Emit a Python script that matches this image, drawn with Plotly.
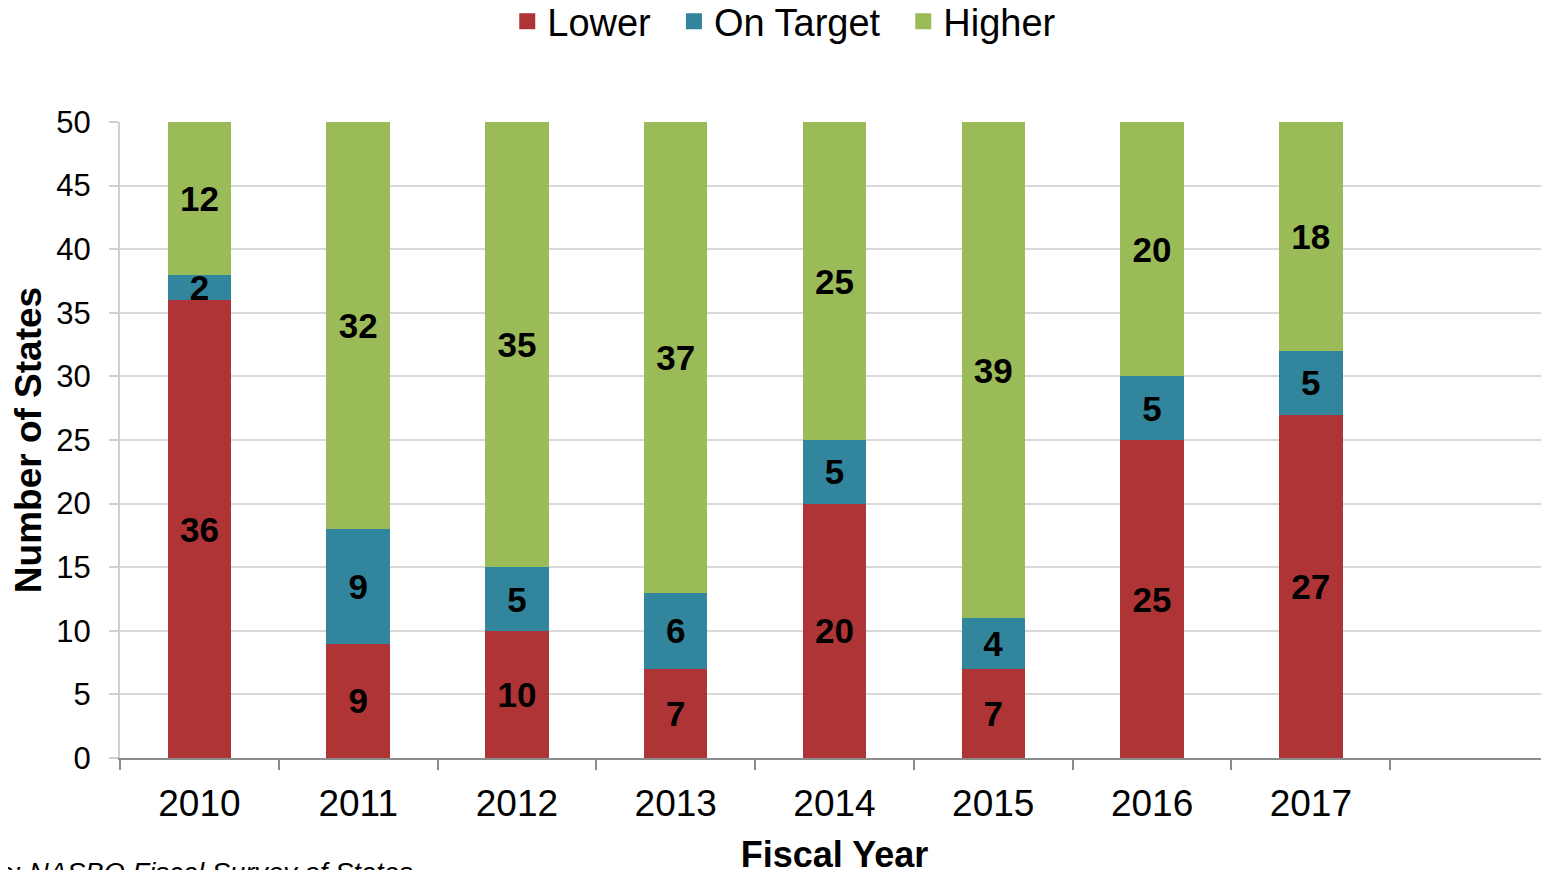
import plotly.graph_objects as go

years = ["2010", "2011", "2012", "2013", "2014", "2015", "2016", "2017"]
lower = [36, 9, 10, 7, 20, 7, 25, 27]
on_target = [2, 9, 5, 6, 5, 4, 5, 5]
higher = [12, 32, 35, 37, 25, 39, 20, 18]

series = [
    ("Lower", lower, "#AE3436"),
    ("On Target", on_target, "#31859C"),
    ("Higher", higher, "#9BBB59"),
]

FONT = "Liberation Sans, Arial, sans-serif"
PAD = "\u00a0\u2009"

fig = go.Figure()
for name, vals, color in series:
    fig.add_trace(go.Bar(
        name=name, x=years, y=vals, marker=dict(color=color, line=dict(width=0)),
        width=0.4, text=[str(v) for v in vals], textposition="inside", textangle=0,
        insidetextanchor="middle", constraintext="none",
        textfont=dict(family=FONT, size=35, color="black", weight="bold"),
        hoverinfo="skip", showlegend=False, legendgroup=name,
    ))
# legend entries with larger square keys
for i, (name, vals, color) in enumerate(series):
    label = name + (PAD if i < len(series) - 1 else "")
    fig.add_trace(go.Scatter(
        name=label, x=[None], y=[None], mode="markers", legendgroup=name,
        marker=dict(symbol="square", size=20, color=color), hoverinfo="skip",
    ))

fig.update_layout(
    barmode="stack",
    width=1549, height=870,
    margin=dict(l=112, r=8, t=114, b=120, autoexpand=False),
    paper_bgcolor="white", plot_bgcolor="white",
    font=dict(family=FONT, color="black"),
    legend=dict(orientation="h", x=0.271, xanchor="left", y=1.158, yanchor="middle",
                font=dict(size=38, family=FONT), traceorder="normal",
                itemwidth=30, tracegroupgap=0),
    xaxis=dict(type="category", categoryorder="array", categoryarray=years + [" "],
               range=[-0.5, 8.5], tickson="boundaries", ticks="outside", ticklen=10,
               tickwidth=2, tickcolor="#8c8c8c", showline=True, linecolor="#8c8c8c",
               linewidth=2, showgrid=False, tickfont=dict(size=37, family=FONT),
               automargin=False, ticklabelstandoff=12,
               title=dict(text="<b>Fiscal Year</b>", font=dict(size=36, family=FONT), standoff=18)),
    yaxis=dict(range=[0, 50], dtick=5, ticks="outside", ticklen=9, tickwidth=2,
               tickcolor="#d0d0d0", showline=True, linecolor="#d0d0d0", linewidth=2,
               showgrid=True, gridcolor="#d9d9d9", gridwidth=2, zeroline=False,
               tickfont=dict(size=31, family=FONT), automargin=False, ticklabelstandoff=12,
               title=dict(text="<b>Number of States</b>", font=dict(size=37, family=FONT), standoff=4)),
)

fig.add_annotation(text="<i>Source: NASBO Fiscal Survey of States</i>", xref="paper", yref="paper",
                   x=-0.1365, y=-0.152, xanchor="left", yanchor="top", showarrow=False,
                   font=dict(size=27.4, family=FONT, color="black"))

fig.write_html("out.html")
